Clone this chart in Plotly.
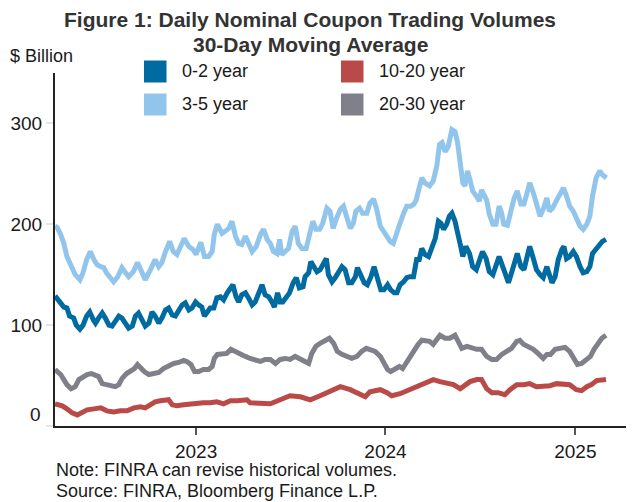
import pandas as pd
import plotly.graph_objects as go

# ---------------- data ----------------
START = "2022-04-04"   # first trading day shown; x values are day offsets from it

days_02 = [0,11,17,23,28,36,41,48,54,61,67,74,78,84,91,97,104,110,116,123,129,136,142,149,155,161,168,174,181,187,
           193,200,206,213,219,226,232,238,245,251,258,264,271,277,283,288,293,299,306,312,319,325,332,338,343,349,354,360,367,373,
           380,386,392,399,405,412,418,423,429,434,439,446,452,459,465,471,478,482,489,493,498,505,511,518,523,527,534,540,546,553,
           559,566,572,579,583,590,596,602,609,615,621,628,634,641,647,654,659,665,672,678,684,691,697,702,707,713,720,726,733,739,
           744,749,755,760,765,771,777,782,786,792,799,805,812,818,824,831,837,844,850,856,863,869,874,880,887,891,898,904,910,915,
           922,928,935,941,948,953,958,964,970,977,981,986,992,999,1005,1012,1018,1025,1031,1036,1043,1049,1055,1062]
vals_02 = [129,123,118,117,109,107,100,96,100,109,113,105,102,107,112,107,100,99,104,109,107,102,97,99,109,112,104,99,102,113,
           109,102,107,115,117,110,109,115,120,122,115,117,123,120,118,109,113,117,117,127,128,125,132,137,140,128,123,130,132,127,
           120,123,132,140,130,128,123,118,132,123,123,128,132,142,147,137,138,148,152,163,158,153,155,162,166,150,143,147,152,158,
           155,142,142,148,157,148,142,140,148,158,147,135,135,140,135,132,132,140,143,147,148,148,165,165,176,170,168,175,186,203,
           201,195,200,208,211,203,191,178,168,178,171,158,155,163,173,166,153,150,158,168,158,147,142,152,165,171,158,155,168,178,
           166,155,150,147,158,148,142,148,165,175,178,166,168,173,168,158,152,153,158,171,176,180,183,185]

days_35 = [0,4,11,17,23,33,39,48,54,61,68,75,81,88,94,99,107,113,121,129,136,142,151,159,168,174,184,193,200,206,
           213,221,228,235,242,249,258,266,272,281,288,296,303,307,313,322,328,335,341,348,354,360,367,373,380,388,396,402,409,415,
           421,428,433,437,444,450,457,463,469,476,484,491,497,503,510,516,524,530,536,542,550,556,563,569,575,580,587,593,601,607,
           614,620,627,633,640,646,652,659,665,672,678,686,692,696,702,707,713,722,729,736,741,746,752,758,765,771,776,781,786,790,
           795,800,805,812,818,822,827,832,837,844,850,856,861,865,872,878,885,891,898,904,910,915,922,928,935,941,948,953,959,967,
           973,980,986,992,999,1005,1012,1018,1025,1031,1036,1043,1050,1055,1063]
vals_35 = [198,197,190,181,168,158,150,145,152,165,173,165,160,158,157,152,147,143,148,157,152,148,153,162,152,145,155,165,158,162,
           173,183,173,170,178,186,178,175,170,182,168,168,173,190,200,191,193,196,203,188,181,180,188,181,173,178,190,195,185,181,
           173,171,185,170,173,176,193,198,181,176,176,190,203,195,195,201,216,213,196,205,215,218,205,196,201,213,216,211,211,221,
           225,215,198,193,188,183,181,190,201,211,218,218,220,224,234,246,241,238,243,258,279,281,272,277,294,292,281,261,241,238,
           253,244,233,228,223,234,229,224,210,200,200,218,211,200,199,211,226,233,220,220,233,241,231,218,208,215,226,213,216,224,
           229,236,228,218,213,206,198,195,200,208,228,246,253,249,246]

days_1020 = [0,14,23,33,43,52,62,75,88,100,113,126,139,152,165,174,184,193,203,213,219,226,235,248,261,274,286,299,312,325,
             338,351,370,376,396,415,434,453,473,492,511,530,550,569,588,598,607,627,640,649,665,684,702,717,729,742,755,768,781,790,
             800,813,822,832,842,854,867,877,890,903,915,928,941,954,967,980,992,1005,1015,1025,1034,1044,1054,1062]
vals_1020 = [22,20,17,13,11,13,16,17,18,15,14,15,15,18,19,18,21,24,25,26,26,21,20,21,22,22,23,23,24,22,
             25,25,26,23,22,22,26,30,29,26,30,34,39,36,31,29,34,36,33,30,32,36,41,44,46,44,42,41,37,41,
             44,46,46,37,33,33,31,36,41,41,42,39,39,40,42,41,41,36,35,39,41,45,46,46]

days_2030 = [0,11,17,23,31,39,46,54,62,70,78,84,91,97,107,116,123,129,138,145,153,159,166,172,181,190,200,209,219,229,
             238,248,254,262,269,277,286,296,303,307,313,322,331,339,346,357,367,376,386,396,405,415,425,434,444,453,463,473,482,489,
             495,503,511,521,529,537,544,553,563,572,582,591,600,607,617,627,634,641,647,656,664,670,678,686,692,700,707,713,722,729,
             742,752,761,771,777,784,794,803,813,822,832,842,851,861,871,880,890,896,903,912,922,931,941,948,955,964,973,983,992,1000,
             1007,1015,1025,1032,1039,1047,1054,1062]
vals_2030 = [56,51,46,41,37,39,46,49,51,52,51,49,42,41,40,39,41,47,52,54,57,61,57,54,51,52,53,57,60,62,
             63,65,64,61,54,54,56,56,59,67,71,72,72,76,74,71,69,67,66,64,66,66,62,66,67,66,69,66,64,62,
             72,79,82,85,87,82,74,71,69,67,69,74,77,76,74,69,62,56,54,57,59,57,64,71,74,81,85,85,84,81,
             90,87,87,90,85,77,79,77,76,76,69,66,66,71,74,77,84,85,81,79,76,72,67,71,71,76,77,78,74,67,
             61,62,66,69,76,82,87,90]

series_names = ["0-2 year", "3-5 year", "10-20 year", "20-30 year"]
series_colors = ["#006BA1", "#92C5EB", "#BA4A47", "#7F8089"]
year_ticks = ["2023-01-01", "2024-01-01", "2025-01-01"]
year_labels = ["2023", "2024", "2025"]
y_ticks = [0, 100, 200, 300]

assert len(days_02) == len(vals_02)
assert len(days_35) == len(vals_35)
assert len(days_1020) == len(vals_1020)
assert len(days_2030) == len(vals_2030)

start = pd.Timestamp(START)
def to_dates(days):
    return [start + pd.Timedelta(days=int(d)) for d in days]

series = {
    "0-2 year": (days_02, vals_02),
    "3-5 year": (days_35, vals_35),
    "10-20 year": (days_1020, vals_1020),
    "20-30 year": (days_2030, vals_2030),
}

# ---------------- figure ----------------
# the page body adds an 8px margin, so the figure is laid out in coordinates
# shifted by OFF relative to the final screenshot
OFF = 8
W, H = 634 - OFF, 502 - OFF
L, R, T, B = 55 - OFF, 634 - OFF, 73 - OFF, 426 - OFF
def px(x):
    return (x - OFF - L) / (R - L)
def py(y):
    return (B - (y - OFF)) / (B - T)

FONT = "Liberation Sans, Arial, sans-serif"
fig = go.Figure()
for name, color in zip(series_names, series_colors):
    d, v = series[name]
    fig.add_trace(go.Scatter(x=to_dates(d), y=v, mode="lines", name=name,
                             line=dict(color=color, width=5), showlegend=False,
                             hoverinfo="skip"))

annotations = [
    dict(x=px(310), y=py(20), text="<b>Figure 1: Daily Nominal Coupon Trading Volumes</b>",
         font=dict(size=21, color="#333333")),
    dict(x=px(310), y=py(45), text="<b>30-Day Moving Average</b>",
         font=dict(size=21, color="#333333")),
    dict(x=px(8), y=py(56), text="$ Billion", xanchor="left", font=dict(size=18, color="#1a1a1a")),
    dict(x=px(43), y=py(414), text="0", xanchor="right", font=dict(size=19, color="#1a1a1a")),
    dict(x=px(55), y=py(470), text="Note: FINRA can revise historical volumes.", xanchor="left",
         borderpad=0, font=dict(size=18, color="#1a1a1a")),
    dict(x=px(55), y=py(491), text="Source: FINRA, Bloomberg Finance L.P.", xanchor="left",
         borderpad=0, font=dict(size=18, color="#1a1a1a")),
]
shapes = []
leg_pos = [(144, 71.5), (144, 104.5), (341, 71.5), (341, 104.5)]
for (sx, sy), name, color in zip(leg_pos, series_names, series_colors):
    shapes.append(dict(type="rect", xref="paper", yref="paper",
                       x0=px(sx), x1=px(sx + 22.5), y0=py(sy + 11), y1=py(sy - 11),
                       fillcolor=color, line=dict(width=0)))
    annotations.append(dict(x=px(sx + 36), y=py(sy), text=name, xanchor="left",
                            font=dict(size=18, color="#1a1a1a")))
for a in annotations:
    a.setdefault("xref", "paper")
    a.setdefault("yref", "paper")
    a.setdefault("showarrow", False)
    a.setdefault("xanchor", "center")
    a.setdefault("yanchor", "middle")

fig.update_layout(
    width=W, height=H,
    margin=dict(l=L, r=W - R, t=T, b=H - B, pad=0),
    paper_bgcolor="white", plot_bgcolor="white",
    font=dict(family=FONT, size=18, color="#1a1a1a"),
    annotations=annotations, shapes=shapes,
    xaxis=dict(type="date", range=[START, "2025-04-24"], tickvals=year_ticks, ticktext=year_labels,
               ticks="outside", ticklen=7, tickwidth=1.5, tickcolor="#555555",
               showline=True, linecolor="#222222", linewidth=2, showgrid=False, zeroline=False,
               tickfont=dict(size=19, color="#1a1a1a")),
    yaxis=dict(range=[0, 350], tickvals=y_ticks, ticktext=[""] + [str(t) for t in y_ticks[1:]],
               ticks="outside", ticklen=7, tickwidth=1.5, tickcolor="#e6e6e6",
               showline=True, linecolor="#222222", linewidth=2, showgrid=False, zeroline=False,
               tickfont=dict(size=19, color="#1a1a1a")),
)

fig.write_html("out.html")
